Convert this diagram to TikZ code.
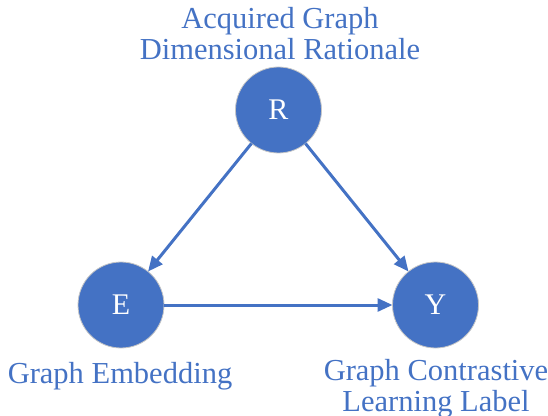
\documentclass[tikz,border=0pt]{standalone}
\usepackage{fontspec}
\setmainfont{Liberation Serif}
\usepackage{tikz}
\usetikzlibrary{arrows.meta,positioning,calc}
\definecolor{nodeblue}{HTML}{4472C4}
\tikzstyle{vertex}=[draw=gray!45,line width=0.8pt,fill=nodeblue,circle,minimum size=86pt,inner sep=0pt,outer sep=0pt,text=white,font=\fontsize{30}{34}\selectfont]
\tikzstyle{caption}=[text=nodeblue,align=center,font=\fontsize{30.5}{31}\selectfont,inner sep=0pt]
\tikzstyle{link}=[nodeblue,line width=3pt,-{Triangle[length=15pt,width=13pt]}]

\begin{document}
\begin{tikzpicture}[x=1pt,y=1pt]
\useasboundingbox (0,0) rectangle (548,415);
% the three variables
\node [vertex] (R) at (278.5,305) {R};
\node [vertex] (E) at (121,110) {E};
\node [vertex] (Y) at (435.5,110) {Y};
% their captions
\node [caption,anchor=base] (Rcap) at (280,355) {Acquired Graph\\Dimensional Rationale};
\node [caption,anchor=base] (Ecap) at (120,32) {Graph Embedding};
\node [caption,anchor=base] (Ycap) at (436,4) {Graph Contrastive\\Learning Label};
% causal links
\draw [link] (R) -- (E);
\draw [link] (R) -- (Y);
\draw [link] (E) -- (Y);
\end{tikzpicture}
\end{document}
